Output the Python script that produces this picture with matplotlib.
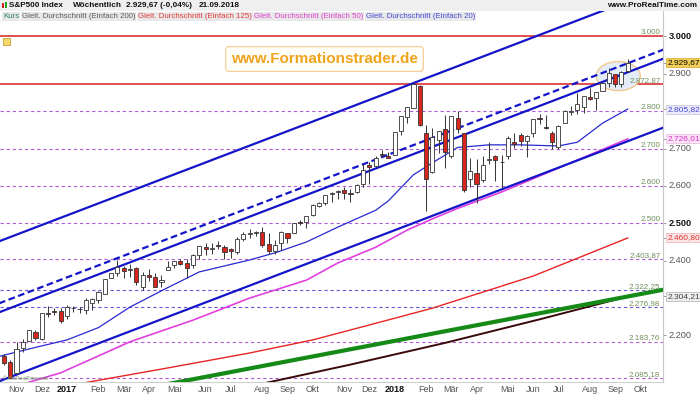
import matplotlib
matplotlib.use("Agg")
import matplotlib.pyplot as plt
import matplotlib.transforms as mtransforms
from matplotlib.patches import Ellipse, Rectangle
import numpy as np
import pandas as pd

plt.rcParams["font.family"] = ["Liberation Sans", "DejaVu Sans"]

# weekly candles S&P 500, 28.10.2016 .. 21.09.2018
week_end = pd.date_range("2016-10-28", periods=100, freq="W-FRI")
opens = [
    2146.0, 2129.0, 2100.6, 2165.6, 2186.4, 2210.2, 2190.2, 2258.8, 2266.5, 2266.2,
    2251.6, 2273.6, 2269.9, 2267.8, 2286.0, 2294.3, 2311.1, 2354.9, 2366.2, 2381.0,
    2374.4, 2381.5, 2329.1, 2363.0, 2357.2, 2342.5, 2374.2, 2388.5, 2397.9, 2393.0,
    2387.2, 2414.5, 2437.8, 2432.0, 2441.0, 2437.0, 2431.4, 2424.5, 2458.6, 2472.0,
    2475.0, 2477.1, 2444.8, 2425.5, 2447.3, 2474.4, 2474.5, 2503.0, 2503.6, 2521.2,
    2547.4, 2555.7, 2578.1, 2583.2, 2588.0, 2580.2, 2583.9, 2605.1, 2657.2, 2652.2,
    2685.4, 2679.1, 2683.7, 2747.3, 2785.0, 2809.2, 2867.2, 2741.1, 2636.8, 2723.0,
    2752.9, 2681.1, 2783.2, 2741.4, 2619.4, 2633.4, 2617.2, 2670.1, 2680.8, 2663.0,
    2680.4, 2718.6, 2735.4, 2720.9, 2741.7, 2781.3, 2758.1, 2742.9, 2704.9, 2769.7,
    2796.9, 2804.6, 2812.4, 2838.9, 2835.5, 2855.0, 2876.2, 2898.4, 2871.9, 2906.6,
]
highs = [
    2151.3, 2133.3, 2182.3, 2189.9, 2213.4, 2214.1, 2259.8, 2277.5, 2273.8, 2272.6,
    2282.1, 2279.3, 2276.1, 2301.0, 2300.0, 2319.2, 2351.3, 2368.3, 2401.0, 2384.5,
    2390.0, 2382.4, 2370.4, 2378.4, 2366.4, 2361.4, 2398.2, 2399.3, 2403.9, 2405.8,
    2418.7, 2440.2, 2446.2, 2446.2, 2453.8, 2441.6, 2434.8, 2463.5, 2477.6, 2484.0,
    2480.4, 2490.9, 2474.0, 2454.8, 2480.4, 2475.2, 2500.2, 2508.9, 2519.4, 2552.5,
    2557.7, 2575.4, 2583.0, 2588.4, 2597.0, 2590.6, 2604.2, 2657.7, 2665.2, 2679.6,
    2695.0, 2692.1, 2743.5, 2787.9, 2810.3, 2872.9, 2870.1, 2763.4, 2754.4, 2747.8,
    2789.2, 2786.6, 2801.9, 2741.4, 2674.8, 2672.1, 2680.3, 2717.5, 2683.6, 2682.9,
    2732.9, 2743.0, 2742.2, 2736.9, 2779.9, 2791.5, 2790.2, 2747.0, 2764.4, 2804.4,
    2814.2, 2848.0, 2840.4, 2863.4, 2852.5, 2876.2, 2916.5, 2900.2, 2908.3, 2940.9,
]
lows = [
    2119.6, 2083.8, 2097.6, 2156.1, 2186.4, 2187.4, 2187.4, 2248.4, 2254.6, 2233.6,
    2245.1, 2263.0, 2258.8, 2257.0, 2267.2, 2288.0, 2311.1, 2352.5, 2359.0, 2354.5,
    2356.2, 2335.3, 2322.3, 2344.5, 2328.9, 2328.3, 2374.2, 2379.8, 2387.9, 2352.7,
    2379.7, 2403.7, 2415.7, 2418.0, 2431.3, 2405.7, 2407.7, 2418.0, 2452.5, 2459.9,
    2467.4, 2437.8, 2417.4, 2417.4, 2428.2, 2446.6, 2474.5, 2496.7, 2488.0, 2520.4,
    2543.8, 2547.9, 2557.2, 2566.2, 2566.3, 2557.5, 2581.2, 2598.0, 2605.5, 2651.7,
    2676.2, 2673.6, 2682.4, 2737.6, 2769.6, 2808.1, 2760.0, 2532.7, 2634.9, 2688.0,
    2647.3, 2675.8, 2741.4, 2585.0, 2596.1, 2553.8, 2610.8, 2660.0, 2612.7, 2594.6,
    2671.2, 2701.9, 2707.4, 2676.8, 2732.0, 2766.8, 2751.5, 2698.7, 2699.0, 2769.6,
    2789.2, 2792.2, 2795.1, 2829.3, 2802.5, 2853.3, 2864.1, 2864.1, 2864.6, 2904.9,
]
closes = [
    2126.41, 2085.18, 2164.45, 2181.90, 2213.35, 2191.95, 2259.53, 2258.07, 2263.79, 2238.83,
    2276.98, 2274.64, 2271.31, 2294.69, 2297.42, 2316.10, 2351.16, 2367.34, 2383.12, 2372.60,
    2378.25, 2343.98, 2362.72, 2355.54, 2328.95, 2348.69, 2384.20, 2399.29, 2390.90, 2381.73,
    2415.82, 2439.07, 2431.77, 2433.15, 2438.30, 2423.41, 2425.18, 2459.27, 2472.54, 2472.10,
    2476.83, 2441.32, 2425.55, 2443.05, 2476.55, 2461.43, 2500.23, 2502.22, 2519.36, 2549.33,
    2553.17, 2575.21, 2581.07, 2587.84, 2582.30, 2578.85, 2602.42, 2642.22, 2651.50, 2675.81,
    2683.34, 2673.61, 2743.15, 2786.24, 2810.30, 2872.87, 2762.13, 2619.55, 2732.22, 2747.30,
    2691.25, 2786.57, 2752.01, 2588.26, 2640.87, 2604.47, 2656.30, 2670.14, 2669.91, 2663.42,
    2727.72, 2712.97, 2721.33, 2734.62, 2779.03, 2779.42, 2754.88, 2718.37, 2759.82, 2801.31,
    2801.83, 2818.82, 2840.35, 2833.28, 2850.13, 2874.69, 2901.52, 2871.68, 2904.98, 2929.67,
]

# moving averages (week index, value)
sma20_week = [-1, 5, 10, 15, 20, 26, 31, 39, 43, 48, 53, 59, 61, 65, 68, 72, 77, 82, 88, 91, 95, 99]
sma20_val = [2143, 2168, 2188, 2221, 2276, 2328, 2370, 2402, 2421, 2450, 2490, 2535,
             2560, 2630, 2662, 2703, 2710, 2710, 2707, 2717, 2768, 2805.82]
sma50_week = [4, 9, 20, 30, 39, 48, 53, 59, 64, 68, 72, 79, 88, 99]
sma50_val = [2075, 2100, 2183, 2241, 2300, 2348, 2394, 2436, 2482, 2512, 2540, 2584, 2648, 2726.01]
sma125_week = [12, 26, 39, 49, 58, 68, 84, 99]
sma125_val = [2071, 2113, 2153, 2188, 2228, 2273, 2359, 2460.80]
sma200_week = [41, 55, 70, 85, 99]
sma200_val = [2071, 2122, 2180, 2243, 2304.21]

# drawn trend lines (week index, value)
trend_week = [-1, 105]
channel_top = [2450.4, 3133.0]
channel_dash = [2284.5, 2967.0]
channel_mid = [2260.4, 2942.9]
channel_low = [2075.8, 2758.4]
green_week = [25, 105]
green_val = [2066.7, 2323.5]

# horizontal levels
red_levels = [3000, 2872.87]
dash_levels = [2800, 2700, 2600, 2500, 2403.87, 2322.25, 2276.98, 2183.76, 2085.18]
right_ticks = [3000, 2900, 2700, 2600, 2500, 2400, 2200]
bold_ticks = [3000, 2500]
box_vals = [2929.67, 2805.82, 2726.01, 2460.80, 2304.21]
box_face = ["#f3cf55", "#ebebfa", "#fbe4f6", "#fde6e6", "#eeeeee"]
box_edge = ["#d8b040", "#c8c8e0", "#e8c0e0", "#f0b8b8", "#bbbbbb"]
box_text = ["#000000", "#4545d0", "#e030c8", "#e03030", "#404040"]

month_de = {2: "Feb", 3: "Mär", 4: "Apr", 5: "Mai", 6: "Jun", 7: "Jul",
            8: "Aug", 9: "Sep", 10: "Okt", 11: "Nov", 12: "Dez"}


def fmt_de(v, dec):
    s = f"{v:,.{dec}f}"
    return s.replace(",", "X").replace(".", ",").replace("X", ".")


W, H = 700, 394
fig = plt.figure(figsize=(7, 3.94), dpi=100)
fig.patch.set_facecolor("white")

ax = fig.add_axes([0, 12 / H, 663 / W, 371 / H])
ax.set_xlim(-0.63, 104.6)
ax.set_ylim(2075.4, 3068.2)
trans = mtransforms.blended_transform_factory(ax.transAxes, ax.transData)

# levels
for v in red_levels:
    ax.axhline(v, color="#d42020", lw=1.1, zorder=2)
for v in dash_levels:
    col = "#6a5ad8" if v in (2322.25, 2276.98) else "#b05fd8"
    ax.axhline(v, color=col, lw=0.8, ls=(0, (3, 2.5)), zorder=1)
for v in red_levels + dash_levels:
    dec = 0 if float(v).is_integer() else 2
    ax.text(0.996, v, fmt_de(v, dec), transform=trans, ha="right", va="bottom",
            fontsize=5.8, color="#6f8f5a", zorder=6)

# highlight around last candles
ax.add_patch(Ellipse((97.5, 2894), width=7.0, height=78, fc="#e4ecf8",
                     ec="#f2c98e", lw=1, zorder=3))

# moving averages
ax.plot(sma200_week, sma200_val, color="#3a0a0a", lw=1.4, zorder=3)
ax.plot(green_week, green_val, color="#168a16", lw=3, zorder=3, solid_capstyle="butt")
ax.plot(sma125_week, sma125_val, color="#e82424", lw=1.0, zorder=3)
ax.plot(sma50_week, sma50_val, color="#e040e0", lw=1.2, zorder=3)
ax.plot(sma20_week, sma20_val, color="#2a2ad0", lw=0.9, zorder=3)

# channel
ax.plot(trend_week, channel_top, color="#1414c8", lw=1.6, zorder=4)
ax.plot(trend_week, channel_mid, color="#1414c8", lw=1.6, zorder=4)
ax.plot(trend_week, channel_low, color="#1414c8", lw=1.6, zorder=4)
ax.plot(trend_week, channel_dash, color="#1414c8", lw=1.6, ls=(0, (3, 1.6)), zorder=4)

# candles
idx = np.arange(len(closes))
o, h, l, c = (np.asarray(a) for a in (opens, highs, lows, closes))
up = c >= o
ax.vlines(idx, l, h, color="#333333", lw=0.7, zorder=5)
ax.bar(idx, np.maximum(np.abs(c - o), 0.8), bottom=np.minimum(o, c), width=0.66,
       color=np.where(up, "white", "#d7261e"), edgecolor="#333333", linewidth=0.6, zorder=6)

# month ticks: first week whose monday falls into a new month
tick_weeks = pd.date_range("2016-10-28", periods=105, freq="W-FRI")
mondays = tick_weeks - pd.Timedelta(days=4)
tick_pos, tick_lab = [], []
for i in range(1, len(mondays)):
    if mondays[i].month != mondays[i - 1].month:
        tick_pos.append(i)
        m = mondays[i].month
        tick_lab.append(str(mondays[i].year) if m == 1 else month_de[m])
ax.set_xticks(tick_pos)
ax.set_xticklabels(tick_lab)
ax.tick_params(axis="x", length=0, pad=2.5, labelsize=6.5, labelcolor="#555555")
for t in ax.get_xticklabels():
    if t.get_text().isdigit():
        t.set_fontweight("bold")
        t.set_color("#111111")

ax.yaxis.tick_right()
ax.set_yticks(right_ticks + box_vals)
ax.set_yticklabels([])
ax.tick_params(axis="y", length=2.5, width=0.6, color="#888888")

for sp in ("top", "left"):
    ax.spines[sp].set_visible(False)
ax.spines["right"].set_color("#c8c8c8")
ax.spines["bottom"].set_color("#d0d0d0")

for v in right_ticks:
    bold = v in bold_ticks
    ax.text(1.008, v, fmt_de(v, 0), transform=trans, ha="left", va="center",
            fontsize=6.6, color="#111111" if bold else "#555555",
            fontweight="bold" if bold else "normal", clip_on=False)
for v, fc, ec, tc in zip(box_vals, box_face, box_edge, box_text):
    ax.text(1.0065, v, fmt_de(v, 2), transform=trans, ha="left", va="center",
            fontsize=6.0, color=tc, clip_on=False,
            bbox=dict(boxstyle="square,pad=0.12", fc=fc, ec=ec, lw=0.6))

# header bar
fig.patches.append(Rectangle((0, 1 - 10.5 / H), 1, 10.5 / H, transform=fig.transFigure,
                             fc="#efefef", ec="none", zorder=0))
fig.patches.append(Rectangle((2 / W, 1 - 8 / H), 2 / W, 5 / H, transform=fig.transFigure,
                             fc="#d42020", ec="none"))
fig.patches.append(Rectangle((5 / W, 1 - 8 / H), 2 / W, 6 / H, transform=fig.transFigure,
                             fc="#20a020", ec="none"))
for txt, x in [("S&P500 Index", 9), ("Wöchentlich", 73),
               ("2.929,67 (-0,04%)", 126), ("21.09.2018", 199)]:
    fig.text(x / W, 1 - 5.5 / H, txt, ha="left", va="center", fontsize=5.9,
             fontweight="bold", color="#111111")
fig.text(697 / W, 1 - 5.5 / H, "www.ProRealTime.com", ha="right", va="center",
         fontsize=5.9, fontweight="bold", color="#111111")

# legend row
legend_items = [
    ("Kurs", 3, "#2f7f6f"),
    ("Gleit. Durchschnitt (Einfach 200)", 22, "#5a5a5a"),
    ("Gleit. Durchschnitt (Einfach 125)", 138, "#e53b3b"),
    ("Gleit. Durchschnitt (Einfach 50)", 254, "#e040d0"),
    ("Gleit. Durchschnitt (Einfach 20)", 366, "#4848d8"),
]
for txt, x, col in legend_items:
    fig.text(x / W, 1 - 16.5 / H, txt, ha="left", va="center", fontsize=5.7, color=col,
             bbox=dict(boxstyle="square,pad=0.1", fc="#e8e8e8", ec="none"))

# small icon top left
fig.patches.append(Rectangle((3 / W, 1 - 45 / H), 7 / W, 7 / H, transform=fig.transFigure,
                             fc="#f5d76e", ec="#c8a030", lw=0.6))

# watermarks
fig.text(324.5 / W, 1 - 59 / H, "www.Formationstrader.de", ha="center", va="center",
         fontsize=11, fontweight="bold", color="#f0a41e",
         bbox=dict(boxstyle="round,pad=0.35,rounding_size=0.2", fc="#fffdf8", ec="#f3c98b", lw=0.8))
fig.text(3 / W, 1 - 378 / H, "© ProRealTime.com", ha="left", va="center",
         fontsize=3.6, color="#6f8f5a")

fig.savefig("out.png", dpi=100, facecolor="white")
